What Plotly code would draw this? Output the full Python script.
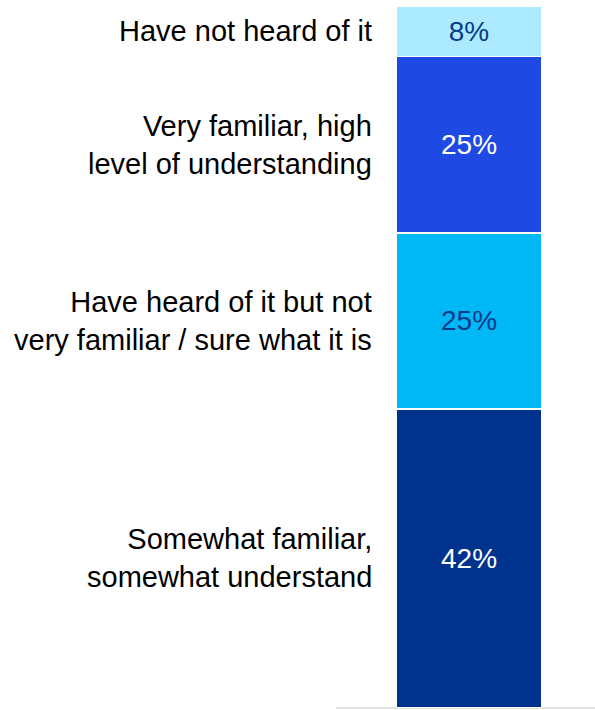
import plotly.graph_objects as go

categories = ["Somewhat familiar,<br>somewhat understand",
              "Have heard of it but not<br>very familiar / sure what it is",
              "Very familiar, high<br>level of understanding",
              "Have not heard of it"]
values = [42.6, 25.1, 25.1, 7.2]
value_labels = ["42%", "25%", "25%", "8%"]
colors = ["#00338D", "#00B8F5", "#1E49E2", "#ACEAFF"]
text_colors = ["#FFFFFF", "#0A3A8A", "#FFFFFF", "#0A3A8A"]

W, H = 595, 710
FONT = "Liberation Sans, Arial, sans-serif"
fig = go.Figure()
base = 0
for cat, v, lab, c, tc in zip(categories, values, value_labels, colors, text_colors):
    fig.add_trace(go.Bar(
        x=[0], y=[v], width=[1],
        marker=dict(color=c, line=dict(color="white", width=1.5)),
        text=[lab], textposition="inside", insidetextanchor="middle",
        textfont=dict(color=tc, size=28, family=FONT),
        hoverinfo="skip", showlegend=False,
    ))
    fig.add_annotation(
        x=374 / W, xref="paper", y=base + v / 2, yref="y",
        text=cat, showarrow=False, xanchor="right", yanchor="middle", align="right",
        font=dict(color="#000000", size=29, family=FONT),
    )
    base += v

fig.add_shape(type="line", xref="paper", yref="paper",
              x0=336 / W, x1=1, y0=0, y1=0,
              line=dict(color="#E3E3E3", width=2), layer="below")

fig.update_layout(
    width=W, height=H, barmode="stack",
    margin=dict(l=0, r=0, t=6, b=2),
    paper_bgcolor="white", plot_bgcolor="white",
    xaxis=dict(domain=[396 / W, 542 / W], range=[-0.5, 0.5], visible=False),
    yaxis=dict(range=[0, 100], visible=False),
    uniformtext=dict(mode="show", minsize=10),
)
fig.write_html("out.html", config={"displayModeBar": False},
               post_script="document.body.style.margin='0';document.body.style.overflow='hidden';")
